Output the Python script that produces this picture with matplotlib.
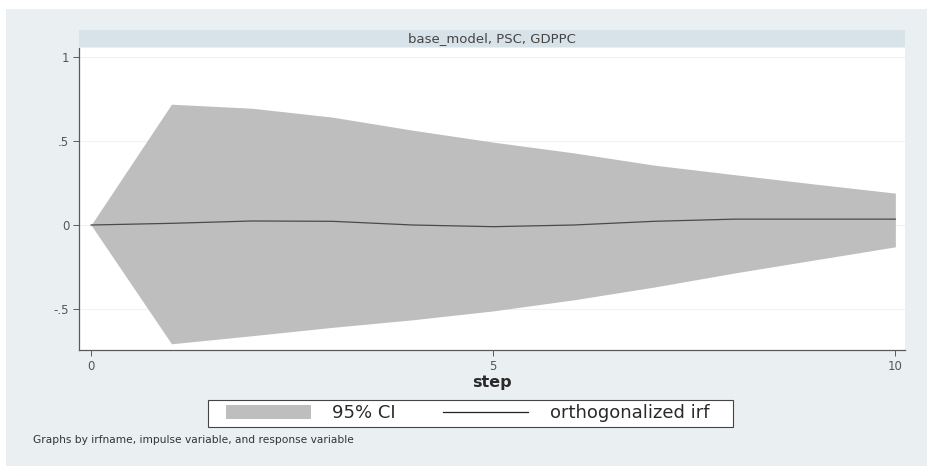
import matplotlib
matplotlib.use('Agg')
import matplotlib.pyplot as plt
from matplotlib.patches import Rectangle, Patch
from matplotlib.lines import Line2D

plt.rcParams['font.family'] = ['DejaVu Sans']

# impulse response: base_model, PSC -> GDPPC
step = [0, 1, 2, 3, 4, 5, 6, 7, 8, 9, 10]
irf = [0.0, 0.01, 0.024, 0.022, 0.0, -0.01, 0.0, 0.022, 0.035, 0.035, 0.035]
ci_upper = [0.0, 0.72, 0.696, 0.643, 0.565, 0.494, 0.43, 0.357, 0.30, 0.244, 0.19]
ci_lower = [0.0, -0.708, -0.66, -0.61, -0.565, -0.512, -0.446, -0.37, -0.286, -0.208, -0.13]

yticks = [-0.5, 0, 0.5, 1]
yticklabels = ['-.5', '0', '.5', '1']
xticks = [0, 5, 10]

W, H = 927, 467
fig = plt.figure(figsize=(W / 100, H / 100), dpi=100)
fig.patch.set_facecolor('white')

# outer graph region
fig.patches.append(Rectangle((6 / W, 1 - 466 / H), 1, (466 - 9) / H,
                             transform=fig.transFigure, facecolor='#eaeff2',
                             edgecolor='none', zorder=-10))

ax_l, ax_r, ax_t, ax_b = 79, 905, 48, 350
ax = fig.add_axes([ax_l / W, 1 - ax_b / H, (ax_r - ax_l) / W, (ax_b - ax_t) / H])
ax.set_facecolor('white')
ax.set_zorder(1)

# subtitle strip
fig.patches.append(Rectangle((ax_l / W, 1 - 47 / H), (ax_r - ax_l) / W, 17 / H,
                             transform=fig.transFigure, facecolor='#d8e3e9',
                             edgecolor='none', zorder=-5))
fig.text((ax_l + ax_r) / 2 / W, 1 - 39 / H, 'base_model, PSC, GDPPC',
         ha='center', va='center', fontsize=9.5, color='#444444')

ax.fill_between(step, ci_lower, ci_upper, color='#bebebe', linewidth=0, zorder=2)
ax.plot(step, irf, color='#4a4a4a', linewidth=0.9, zorder=3)

ax.set_xlim(-0.15, 10.12)
ax.set_ylim(-0.745, 1.055)
ax.set_xticks(xticks)
ax.set_yticks(yticks)
ax.set_yticklabels(yticklabels)
ax.grid(axis='y', color='#eef2f4', linewidth=0.8, zorder=1)
ax.set_axisbelow(True)

for side in ['top', 'right']:
    ax.spines[side].set_visible(False)
for side in ['left', 'bottom']:
    ax.spines[side].set_color('#5a5a5a')
    ax.spines[side].set_linewidth(0.9)
ax.tick_params(direction='out', length=4, width=0.7, color='#5a5a5a',
               labelsize=8.5, labelcolor='#555555', pad=3)

ax.set_xlabel('step', fontsize=11.5, fontweight='bold', color='#2a2a2a', labelpad=2)

# legend box with a wider frame than the entries need
fig.patches.append(Rectangle((208 / W, 1 - 427 / H), (733 - 208) / W, 27 / H,
                             transform=fig.transFigure, facecolor='white',
                             edgecolor='#444444', linewidth=0.8, zorder=-2))
handles = [Patch(facecolor='#bebebe', edgecolor='none'),
           Line2D([], [], color='#222222', linewidth=0.9)]
leg = fig.legend(handles, ['95% CI', 'orthogonalized irf'], ncol=2,
                 loc='center', bbox_to_anchor=(467.5 / W, 1 - 413.5 / H),
                 fontsize=13, frameon=False,
                 handlelength=4.7, handleheight=0.8, columnspacing=2.6,
                 handletextpad=1.2, borderpad=0.2, borderaxespad=0)
for t in leg.get_texts():
    t.set_color('#2a2a2a')

fig.text(33 / W, 1 - 440 / H,
         'Graphs by irfname, impulse variable, and response variable',
         ha='left', va='center', fontsize=7.7, color='#333333')

fig.savefig('out.png', dpi=100)
